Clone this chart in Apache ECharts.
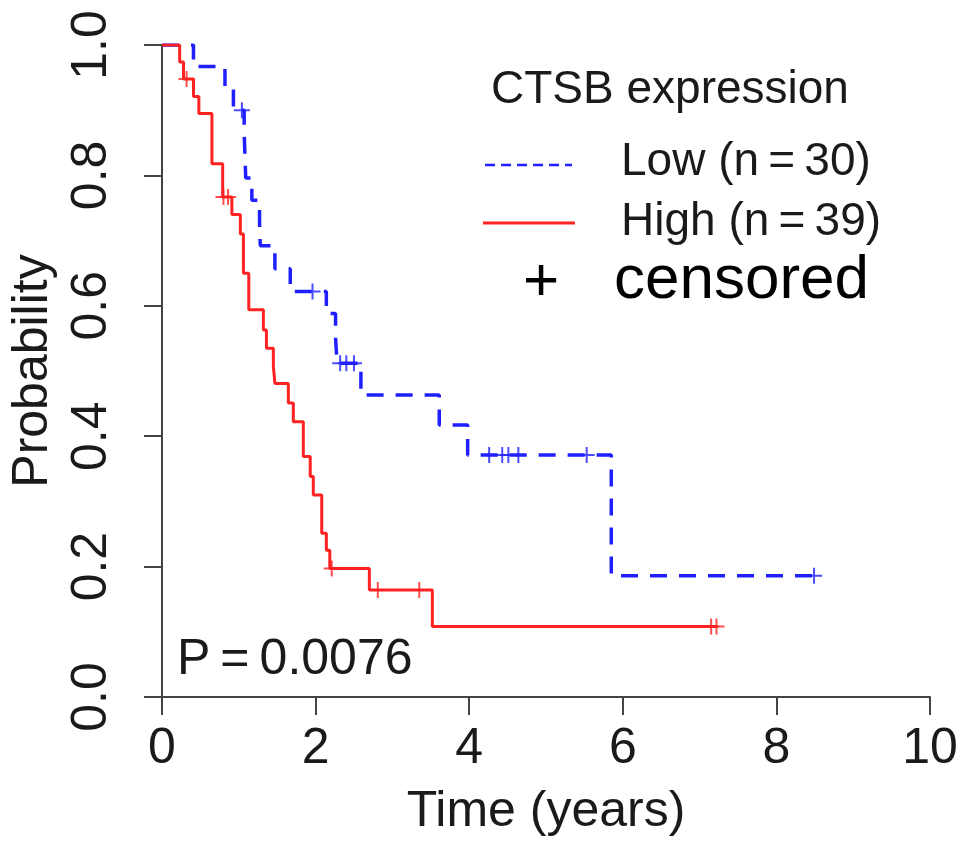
<!DOCTYPE html>
<html>
<head>
<meta charset="utf-8">
<script src="https://cdn.jsdelivr.net/npm/echarts@6/dist/echarts.min.js"></script>
<style>html,body{margin:0;padding:0;background:#fff;}#c{width:969px;height:854px;}</style>
</head>
<body>
<div id="c"></div>
<script>
// ---- data ----
const xTicks = [0, 2, 4, 6, 8, 10];
const yTicks = [0.0, 0.2, 0.4, 0.6, 0.8, 1.0];

// Low CTSB expression (n = 30): event times (years) and survival after each drop
const lowTimes = [0, 0.41, 0.82, 0.93, 1.07, 1.08, 1.09, 1.17, 1.27, 1.28, 1.47, 1.67, 2.14, 2.26, 2.28, 2.59, 3.61, 3.98, 5.85, 8.49];
const lowSurv  = [1, 0.967, 0.933, 0.900, 0.865, 0.831, 0.796, 0.762, 0.727, 0.692, 0.657, 0.622, 0.588, 0.550, 0.512, 0.463, 0.417, 0.371, 0.186, 0.186];
const lowCensTimes = [1.04, 1.96, 2.32, 2.40, 2.50, 4.26, 4.43, 4.51, 4.64, 5.53, 8.49];
const lowCensSurv  = [0.900, 0.622, 0.512, 0.512, 0.512, 0.371, 0.371, 0.371, 0.371, 0.371, 0.186];

// High CTSB expression (n = 39)
const highTimes = [0, 0.23, 0.28, 0.41, 0.48, 0.65, 0.79, 0.91, 1.02, 1.06, 1.13, 1.32, 1.36, 1.45, 1.47, 1.645, 1.71, 1.84, 1.93, 1.97, 2.08, 2.14, 2.185, 2.70, 3.52, 7.22];
const highSurv  = [1, 0.974, 0.948, 0.921, 0.895, 0.818, 0.767, 0.740, 0.710, 0.650, 0.594, 0.563, 0.535, 0.507, 0.481, 0.451, 0.422, 0.369, 0.338, 0.310, 0.251, 0.225, 0.197, 0.164, 0.108, 0.108];
const highCensTimes = [0.32, 0.80, 0.86, 2.21, 2.81, 3.35, 7.15, 7.22];
const highCensSurv  = [0.948, 0.767, 0.767, 0.197, 0.164, 0.164, 0.108, 0.108];

const legendTitle = 'CTSB expression';
const seriesNames = ['Low (n\u2009=\u200930)', 'High (n\u2009=\u200939)'];
const pText = 'P\u2009=\u20090.0076';

// ---- build ----
const zip = (a, b) => a.map((v, i) => [v, b[i]]);
const FONT = '"Liberation Sans", Arial, Helvetica, sans-serif';
const BLUE = '#1f1fff';
const RED = '#ff2222';
const AX = '#444';
const TXT = '#1a1a1a';
const PLUS = 'path://M0,7H16V9H0Z M7,0H9V16H7Z';

const chart = echarts.init(document.getElementById('c'), null, {renderer: 'canvas'});
chart.setOption({
  animation: false,
  backgroundColor: '#fff',
  grid: {left: 158, right: 39, top: 45, bottom: 157},
  xAxis: {
    type: 'value', min: xTicks[0], max: xTicks[xTicks.length - 1], interval: 2,
    name: 'Time (years)', nameLocation: 'middle', nameGap: 90,
    nameTextStyle: {fontFamily: FONT, fontSize: 50, color: TXT},
    axisLine: {onZero: false, lineStyle: {color: AX, width: 2}},
    axisTick: {length: 18, lineStyle: {color: AX, width: 2}},
    axisLabel: {fontFamily: FONT, fontSize: 50, color: TXT, margin: 27},
    splitLine: {show: false}
  },
  yAxis: {
    type: 'value', min: yTicks[0], max: yTicks[yTicks.length - 1], interval: 0.2,
    name: 'Probability', nameLocation: 'middle', nameGap: 104, nameRotate: 90,
    nameTextStyle: {fontFamily: FONT, fontSize: 50, color: TXT},
    axisLine: {show: true, onZero: false, lineStyle: {color: AX, width: 2}},
    axisTick: {show: true, length: 18, lineStyle: {color: AX, width: 2}},
    axisLabel: {fontFamily: FONT, fontSize: 50, color: TXT, margin: 45, rotate: 90,
      formatter: v => v.toFixed(1)},
    splitLine: {show: false}
  },
  series: [
    {name: seriesNames[0], type: 'line', step: 'end', symbol: 'none', data: zip(lowTimes, lowSurv),
     lineStyle: {color: BLUE, width: 3.5, type: [17, 12]}, z: 2},
    {name: seriesNames[1], type: 'line', step: 'end', symbol: 'none', data: zip(highTimes, highSurv),
     lineStyle: {color: RED, width: 3}, z: 3},
    {name: 'Low censored', type: 'scatter', symbol: PLUS, symbolSize: 16, data: zip(lowCensTimes, lowCensSurv),
     itemStyle: {color: BLUE}, z: 4},
    {name: 'High censored', type: 'scatter', symbol: PLUS, symbolSize: 16, data: zip(highCensTimes, highCensSurv),
     itemStyle: {color: RED}, z: 4}
  ],
  graphic: [
    {type: 'text', x: 491, y: 90, style: {text: legendTitle, font: '46px ' + FONT, fill: TXT, textVerticalAlign: 'middle'}},
    {type: 'line', shape: {x1: 485, y1: 165, x2: 572, y2: 165}, style: {stroke: BLUE, lineWidth: 2.5, lineDash: [10, 6]}},
    {type: 'text', x: 621, y: 162, style: {text: seriesNames[0], font: '46px ' + FONT, fill: TXT, textVerticalAlign: 'middle'}},
    {type: 'line', shape: {x1: 483, y1: 223, x2: 575, y2: 223}, style: {stroke: RED, lineWidth: 3}},
    {type: 'text', x: 621, y: 222, style: {text: seriesNames[1], font: '46px ' + FONT, fill: TXT, textVerticalAlign: 'middle'}},
    {type: 'text', x: 541, y: 283, style: {text: '+', font: '62px ' + FONT, fill: '#000', textAlign: 'center', textVerticalAlign: 'middle'}},
    {type: 'text', x: 614, y: 281, style: {text: 'censored', font: '62px ' + FONT, fill: '#000', textVerticalAlign: 'middle'}},
    {type: 'text', x: 177, y: 660, style: {text: pText, font: '50px ' + FONT, fill: TXT, textVerticalAlign: 'middle'}}
  ]
});
</script>
</body>
</html>
